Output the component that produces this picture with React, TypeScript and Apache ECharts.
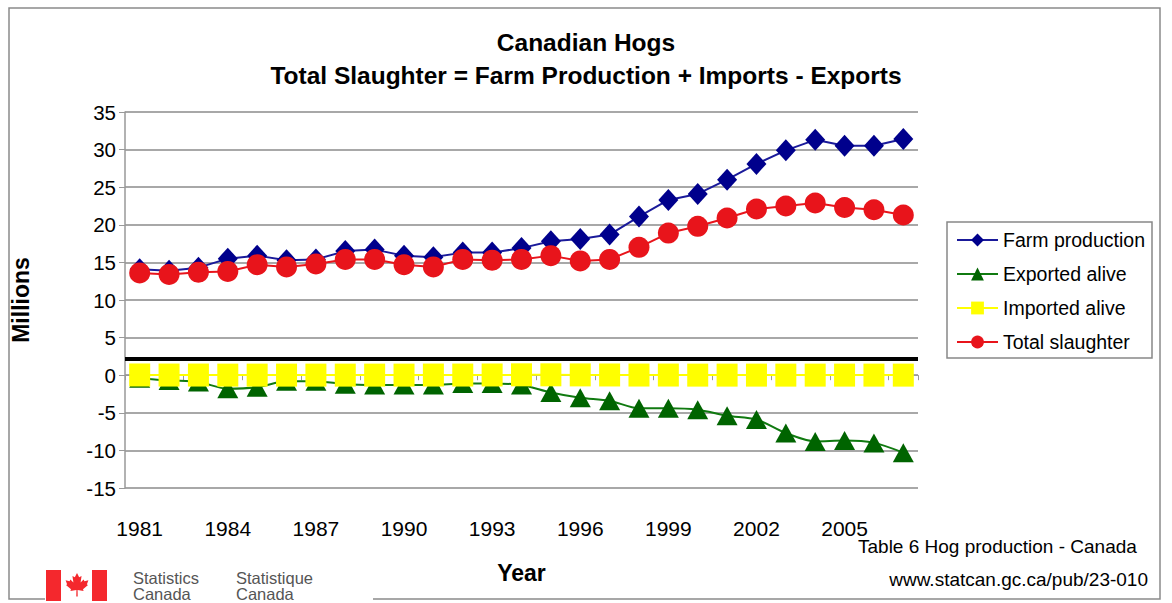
import React, { useEffect, useRef } from "react";
import * as echarts from "echarts";

const years = ["1981","1982","1983","1984","1985","1986","1987","1988","1989","1990","1991","1992","1993","1994","1995","1996","1997","1998","1999","2000","2001","2002","2003","2004","2005","2006","2007"];
const farmProduction = [14.1,13.9,14.3,15.5,15.9,15.3,15.4,16.5,16.7,15.9,15.7,16.3,16.3,16.9,17.8,18.1,18.7,21.1,23.3,24.1,26.0,28.1,29.9,31.3,30.5,30.5,31.4];
const exportedAlive = [-0.4,-0.7,-0.9,-1.8,-1.6,-0.8,-0.8,-1.2,-1.3,-1.3,-1.3,-1.1,-1.1,-1.3,-2.3,-3.0,-3.4,-4.4,-4.4,-4.6,-5.4,-5.9,-7.7,-8.8,-8.7,-9.0,-10.3];
const importedAlive = [0.03,0.02,0.02,0.01,0.01,0.01,0.01,0.01,0.01,0.01,0.02,0.02,0.03,0.05,0.05,0.04,0.03,0.02,0.02,0.01,0.01,0.01,0.01,0.01,0.01,0.01,0.01];
const totalSlaughter = [13.6,13.4,13.7,13.8,14.7,14.4,14.8,15.4,15.4,14.7,14.4,15.4,15.3,15.4,15.9,15.2,15.4,17.0,18.9,19.8,20.9,22.1,22.5,22.9,22.3,22.0,21.3];
const referenceLine = 2.25;

const FONT = "'Liberation Sans', Arial, sans-serif";

const leaf = [
  [0,-1],[0.18,-0.65],[0.38,-0.75],[0.3,-0.2],[0.55,-0.45],[0.62,-0.32],[0.95,-0.4],[0.82,-0.05],[0.92,0],[0.5,0.35],[0.55,0.5],[0.05,0.42],[0.06,0.95],
  [-0.06,0.95],[-0.05,0.42],[-0.55,0.5],[-0.5,0.35],[-0.92,0],[-0.82,-0.05],[-0.95,-0.4],[-0.62,-0.32],[-0.55,-0.45],[-0.3,-0.2],[-0.38,-0.75],[-0.18,-0.65]
];

export default function App() {
  const ref = useRef<HTMLDivElement>(null);
  useEffect(() => {
    if (!ref.current) return;
    const chart = echarts.init(ref.current, null, { renderer: "svg" });
    const leafPts = leaf.map(([x, y]) => [77 + x * 12, 585 + y * 12]);
    chart.setOption({
      animation: false,
      backgroundColor: "#ffffff",
      textStyle: { fontFamily: FONT },
      title: {
        text: "Canadian Hogs\nTotal Slaughter = Farm Production + Imports - Exports",
        left: "center",
        top: 21,
        textStyle: { fontSize: 24.5, fontWeight: "bold", color: "#000", lineHeight: 33, fontFamily: FONT },
      },
      grid: { left: 125, top: 112, right: 254, bottom: 115 },
      legend: {
        orient: "vertical",
        left: 947,
        top: 222,
        padding: [8, 1, 8, 9],
        borderWidth: 0,
        itemWidth: 41,
        itemHeight: 16,
        itemGap: 14,
        textStyle: { fontSize: 19.5, color: "#000", fontFamily: FONT },
        data: ["Farm production", "Exported alive", "Imported alive", "Total slaughter"],
      },
      xAxis: [
        {
          type: "category",
          data: years,
          boundaryGap: true,
          axisLine: { show: false, onZero: false },
          axisTick: { show: false },
          axisLabel: { interval: 2, fontSize: 21, color: "#000", margin: 30, fontFamily: FONT },
          name: "Year",
          nameLocation: "middle",
          nameGap: 73,
          nameTextStyle: { fontSize: 23, fontWeight: "bold", color: "#000", fontFamily: FONT },
        },
        {
          type: "category",
          data: years,
          boundaryGap: true,
          position: "bottom",
          axisLine: { show: true, onZero: true, lineStyle: { color: "#999", width: 1 } },
          axisTick: { show: true, inside: false, length: 5, lineStyle: { color: "#999" } },
          axisLabel: { show: false },
        },
      ],
      yAxis: {
        type: "value",
        min: -15,
        max: 35,
        interval: 5,
        axisLine: { show: true, lineStyle: { color: "#999", width: 1.5 } },
        axisTick: { show: true, length: 6, lineStyle: { color: "#999" } },
        axisLabel: { fontSize: 20.5, color: "#000", margin: 9, fontFamily: FONT },
        splitLine: { show: true, lineStyle: { color: "#a8a8a8", width: 2 } },
        name: "Millions",
        nameLocation: "middle",
        nameGap: 93,
        nameRotate: 90,
        nameTextStyle: { fontSize: 23, fontWeight: "bold", color: "#000", fontFamily: FONT },
      },
      series: [
        {
          name: "Farm production",
          type: "line",
          data: farmProduction,
          showAllSymbol: true,
          symbol: "diamond",
          symbolSize: [20, 22],
          itemStyle: { color: "#00008c" },
          lineStyle: { color: "#1a1a9a", width: 2 },
          markLine: {
            silent: true,
            symbol: "none",
            label: { show: false },
            lineStyle: { color: "#000", width: 4, type: "solid" },
            data: [{ yAxis: referenceLine }],
          },
        },
        {
          name: "Exported alive",
          type: "line",
          data: exportedAlive,
          showAllSymbol: true,
          smooth: 0.3,
          symbol: "triangle",
          symbolSize: [21, 19],
          itemStyle: { color: "#006400" },
          lineStyle: { color: "#107a10", width: 2 },
        },
        {
          name: "Imported alive",
          type: "line",
          data: importedAlive,
          showAllSymbol: true,
          symbol: "rect",
          symbolSize: [21, 23],
          itemStyle: { color: "#ffff00" },
          lineStyle: { color: "#ffff00", width: 2 },
        },
        {
          name: "Total slaughter",
          type: "line",
          data: totalSlaughter,
          showAllSymbol: true,
          symbol: "circle",
          symbolSize: 21,
          itemStyle: { color: "#e8141b" },
          lineStyle: { color: "#e8141b", width: 2 },
        },
      ],
      graphic: [
        {
          type: "rect",
          z: -10,
          shape: { x: 9, y: 8, width: 1151, height: 591 },
          style: { fill: "none", stroke: "#8a8a8a", lineWidth: 1.5 },
        },
        {
          type: "rect",
          z: -5,
          shape: { x: 45, y: 592, width: 328, height: 11 },
          style: { fill: "#fff" },
        },
        {
          type: "rect",
          shape: { x: 947, y: 222, width: 205, height: 136 },
          style: { fill: "none", stroke: "#888", lineWidth: 1.5 },
        },
        { type: "rect", shape: { x: 46, y: 570, width: 15, height: 31 }, style: { fill: "#f4282d" } },
        { type: "rect", shape: { x: 92, y: 570, width: 15, height: 31 }, style: { fill: "#f4282d" } },
        { type: "polygon", shape: { points: leafPts }, style: { fill: "#f4282d" } },
        { type: "text", left: 133, top: 569, style: { text: "Statistics\nCanada", fontSize: 16.5, lineHeight: 16, fill: "#555", fontFamily: FONT } },
        { type: "text", left: 236, top: 569, style: { text: "Statistique\nCanada", fontSize: 16.5, lineHeight: 16, fill: "#555", fontFamily: FONT } },
        { type: "text", left: 858, top: 537, style: { text: "Table 6 Hog production - Canada", fontSize: 19, fill: "#000", fontFamily: FONT } },
        { type: "text", right: 24, top: 570, style: { text: "www.statcan.gc.ca/pub/23-010", fontSize: 19, fill: "#000", fontFamily: FONT } },
      ],
    });
    return () => chart.dispose();
  }, []);
  return <div ref={ref} style={{ position: "fixed", left: 0, top: 0, width: 1172, height: 603 }} />;
}
